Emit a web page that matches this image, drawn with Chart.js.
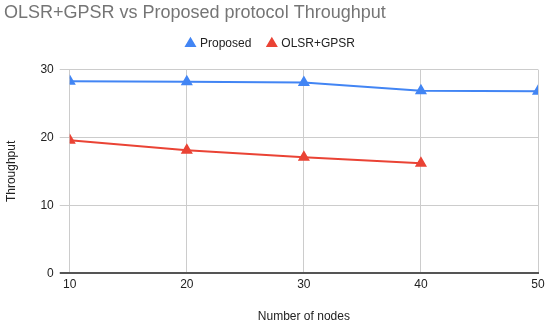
<!DOCTYPE html>
<html>
<head>
<meta charset="utf-8">
<script src="https://cdn.jsdelivr.net/npm/chart.js@4"></script>
<style>
  html, body { margin: 0; padding: 0; background: #fff; }
  #wrap { width: 550px; height: 324px; }
</style>
</head>
<body>
<div id="wrap"><canvas id="chartThroughput"></canvas></div>
<script>
const nodes = [10, 20, 30, 40, 50];
const proposed = [28.3, 28.2, 28.1, 26.9, 26.8];
const olsrGpsr = [19.6, 18.1, 17.1, 16.2];
const yTicks = [0, 10, 20, 30];

const baseFont = { family: "'Liberation Sans', Arial, sans-serif", size: 12 };

// extra room under the legend
const legendMargin = {
    id: 'legendMargin',
    beforeInit(chart) {
        const fit = chart.legend.fit;
        chart.legend.fit = function () {
            fit.bind(chart.legend)();
            this.height += 10;
        };
    }
};

const ctx = document.getElementById('chartThroughput');
new Chart(ctx, {
    type: 'line',
    data: {
        datasets: [
            {
                label: 'Proposed',
                data: nodes.map((n, i) => ({ x: n, y: proposed[i] })),
                borderColor: '#4285F4',
                backgroundColor: '#4285F4',
                borderWidth: 2,
                pointStyle: 'triangle',
                pointRadius: 5,
                pointHoverRadius: 5
            },
            {
                label: 'OLSR+GPSR',
                data: olsrGpsr.map((v, i) => ({ x: nodes[i], y: v })),
                borderColor: '#EA4335',
                backgroundColor: '#EA4335',
                borderWidth: 2,
                pointStyle: 'triangle',
                pointRadius: 5,
                pointHoverRadius: 5
            }
        ]
    },
    options: {
        responsive: true,
        maintainAspectRatio: false,
        animation: false,
        layout: {
            padding: { left: 4, right: 12, top: 2, bottom: 0 }
        },
        plugins: {
            title: {
                display: true,
                text: 'OLSR+GPSR vs Proposed protocol Throughput',
                align: 'start',
                color: '#757575',
                font: { family: "'Liberation Sans', Arial, sans-serif", size: 18, weight: 'normal' },
                padding: { top: 0, bottom: -3 }
            },
            legend: {
                labels: {
                    usePointStyle: true,
                    pointStyle: 'triangle',
                    boxWidth: 7,
                    boxHeight: 7,
                    color: '#222',
                    font: baseFont,
                    padding: 17
                }
            },
            tooltip: { enabled: false }
        },
        scales: {
            x: {
                type: 'linear',
                min: 10,
                max: 50,
                ticks: {
                    stepSize: 10,
                    color: '#222',
                    font: baseFont,
                    padding: 4
                },
                grid: { color: '#cccccc', drawTicks: false },
                border: { color: '#555555', width: 2 },
                title: {
                    display: true,
                    text: 'Number of nodes',
                    color: '#222',
                    font: baseFont,
                    padding: { top: 14, bottom: 0 }
                }
            },
            y: {
                min: 0,
                max: 30,
                afterBuildTicks: (axis) => {
                    axis.ticks = yTicks.map(v => ({ value: v }));
                },
                ticks: {
                    color: '#222',
                    font: baseFont,
                    padding: 6
                },
                grid: {
                    color: (c) => c.tick && c.tick.value === 0 ? '#555555' : '#cccccc',
                    lineWidth: (c) => c.tick && c.tick.value === 0 ? 2 : 1,
                    drawTicks: true,
                    tickLength: 10
                },
                border: { display: false },
                title: {
                    display: true,
                    text: 'Throughput',
                    color: '#222',
                    font: baseFont,
                    padding: { top: 0, bottom: 16 }
                }
            }
        }
    },
    plugins: [legendMargin]
});
</script>
</body>
</html>
